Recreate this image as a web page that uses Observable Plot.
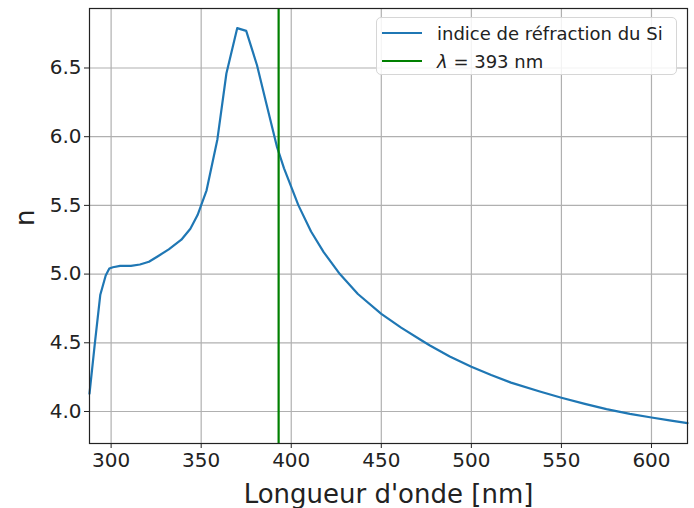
<!DOCTYPE html>
<html>
<head>
<meta charset="utf-8">
<script src="https://cdn.jsdelivr.net/npm/d3@7"></script>
<script src="https://cdn.jsdelivr.net/npm/@observablehq/plot@0.6"></script>
<style>
  html, body { margin: 0; padding: 0; background: #fff; }
  #wrap { position: relative; width: 694px; height: 508px; font-family: "DejaVu Sans", sans-serif; }
  #legend { position: absolute; left: 376px; top: 17px; width: 301px; height: 58px; box-sizing: border-box;
    background: rgba(255,255,255,0.85); border: 1px solid #d6d6d6; border-radius: 5px; font-size: 18px; color: #222; }
  .row { position: absolute; left: 5px; height: 20px; display: flex; align-items: center; }
  .swatch { width: 40px; height: 0; border-top: 2px solid; margin-right: 15px; }
</style>
</head>
<body>
<div id="wrap">
  <div id="chart"></div>
  <div id="legend"></div>
</div>
<script>
// wavelength (nm)
const wavelength = [288, 291, 294, 297, 299, 301, 305, 311, 316, 321, 326, 332, 339, 344, 348, 353, 359, 364, 370, 375, 381, 386, 392, 396, 400, 404, 411, 418, 427, 437, 450, 461, 472, 477, 488, 500, 511, 522, 538, 550, 563, 575, 588, 600, 610, 620];
// refractive index n of Si
const nIndex = [4.13, 4.50, 4.85, 4.99, 5.04, 5.05, 5.06, 5.06, 5.07, 5.09, 5.13, 5.18, 5.25, 5.33, 5.43, 5.61, 5.98, 6.46, 6.79, 6.77, 6.52, 6.25, 5.93, 5.77, 5.635, 5.50, 5.31, 5.16, 5.00, 4.855, 4.71, 4.61, 4.52, 4.48, 4.40, 4.326, 4.265, 4.21, 4.145, 4.10, 4.055, 4.017, 3.983, 3.956, 3.935, 3.915];
const lambdaLine = [393];
const xTicks = [300, 350, 400, 450, 500, 550, 600];
const yTicks = [4.0, 4.5, 5.0, 5.5, 6.0, 6.5];
const seriesLabels = ["indice de réfraction du Si", "λ = 393 nm"];
const seriesColors = ["#1f77b4", "#008000"];

const data = wavelength.map((w, i) => ({w, n: nIndex[i]}));

const chart = Plot.plot({
  width: 694,
  height: 508,
  marginLeft: 89,
  marginRight: 7,
  marginTop: 8,
  marginBottom: 65,
  style: {fontFamily: "DejaVu Sans, sans-serif", color: "#222", background: "white"},
  x: {domain: [288, 620]},
  y: {domain: [3.767, 6.933]},
  marks: [
    Plot.gridX(xTicks, {stroke: "#b0b0b0", strokeOpacity: 1, strokeWidth: 1.2}),
    Plot.gridY(yTicks, {stroke: "#b0b0b0", strokeOpacity: 1, strokeWidth: 1.2}),
    Plot.axisX({ticks: xTicks, tickFormat: d => String(d), tickSize: 5, tickPadding: 4, fontSize: 20, label: null, stroke: "#222"}),
    Plot.axisY({ticks: yTicks, tickFormat: d => d.toFixed(1), tickSize: 5, tickPadding: 3, fontSize: 20, label: null, stroke: "#222"}),
    Plot.line(data, {x: "w", y: "n", stroke: seriesColors[0], strokeWidth: 2.2}),
    Plot.ruleX(lambdaLine, {stroke: seriesColors[1], strokeWidth: 2.2}),
    Plot.frame({stroke: "#222", strokeWidth: 1.2}),
    Plot.text(["Longueur d'onde [nm]"], {frameAnchor: "bottom", dy: 51, fontSize: 26, lineAnchor: "middle", fill: "#222"}),
    Plot.text(["n"], {frameAnchor: "left", dx: -64, rotate: -90, fontSize: 26, lineAnchor: "middle", fill: "#222"})
  ]
});
document.getElementById("chart").appendChild(chart);

const legend = document.getElementById("legend");
seriesLabels.forEach((lab, i) => {
  const row = document.createElement("div");
  row.className = "row";
  row.style.top = (i === 0 ? 5 : 33) + "px";
  const sw = document.createElement("div");
  sw.className = "swatch";
  sw.style.borderTopColor = seriesColors[i];
  row.appendChild(sw);
  const t = document.createElement("span");
  if (i === 1) {
    t.innerHTML = '<i>λ</i> = 393 nm';
  } else {
    t.textContent = lab;
  }
  row.appendChild(t);
  legend.appendChild(row);
});
</script>
</body>
</html>
